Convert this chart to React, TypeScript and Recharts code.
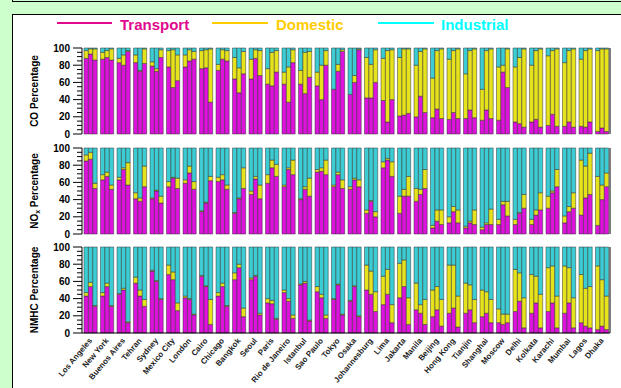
import React from "react";
import { BarChart, Bar, XAxis, YAxis } from "recharts";

const cities = [
  "Los Angeles", "New York", "Buenos Aires", "Tehran", "Sydney", "Mexico City",
  "London", "Cairo", "Chicago", "Bangkok", "Seoul", "Paris", "Rio de Janeiro",
  "Istanbul", "Sao Paulo", "Tokyo", "Osaka", "Johannesburg", "Lima", "Jakarta",
  "Manila", "Beijing", "Hong Kong", "Tianjin", "Shanghai", "Moscow", "Delhi",
  "Kolkata", "Karachi", "Mumbai", "Lagos", "Dhaka",
];

const yTicks = [0, 5, 10, 15, 20, 25, 30, 35, 40, 45, 50, 55, 60, 65, 70, 75, 80, 85, 90, 95, 100];
const yLabels = [0, 20, 40, 60, 80, 100];

// three bars per city, values in percent
const coTransport = [
  [88, 93, 86], [87, 89, 86], [83, 80, 96], [83, 73, 82], [79, 73, 89], [78, 54, 62],
  [78, 85, 87], [76, 77, 37], [74, 87, 85], [64, 48, 70], [64, 88, 68], [58, 56, 72],
  [58, 37, 83], [58, 47, 66], [56, 40, 80], [52, 73, 96], [46, 60, 98], [42, 42, 60],
  [39, 14, 40], [21, 22, 24], [20, 44, 25], [19, 29, 18], [17, 25, 18], [18, 28, 19],
  [16, 28, 18], [16, 72, 54], [14, 12, 8], [14, 17, 8], [10, 23, 9], [9, 14, 8],
  [9, 8, 14], [3, 7, 3],
];
const coDomestic = [
  [9, 6, 13], [8, 8, 13], [5, 12, 1], [9, 1, 17], [5, 3, 9], [19, 44, 30],
  [14, 13, 9], [21, 21, 62], [7, 11, 12], [25, 29, 26], [23, 10, 29], [18, 39, 25],
  [14, 41, 15], [16, 48, 30], [16, 40, 17], [0, 8, 2], [0, 8, 1], [47, 39, 38],
  [49, 83, 58], [68, 77, 75], [60, 52, 74], [46, 68, 81], [70, 72, 81], [52, 69, 80],
  [36, 69, 81], [62, 8, 45], [64, 77, 91], [66, 80, 91], [81, 74, 90], [74, 83, 91],
  [78, 89, 85], [94, 92, 96],
];
const coIndustrial = [
  [3, 1, 1], [5, 3, 1], [12, 8, 3], [8, 26, 1], [16, 24, 2], [3, 2, 8],
  [8, 2, 4], [3, 2, 1], [19, 2, 3], [11, 23, 4], [13, 2, 3], [24, 5, 3],
  [28, 22, 2], [26, 5, 4], [28, 20, 3], [48, 19, 2], [54, 32, 1], [11, 19, 2],
  [12, 3, 2], [11, 1, 1], [20, 4, 1], [35, 3, 1], [13, 3, 1], [30, 3, 1],
  [48, 3, 1], [22, 20, 1], [22, 11, 1], [20, 3, 1], [9, 3, 1], [17, 3, 1],
  [13, 3, 1], [3, 1, 1],
];

const noxTransport = [
  [85, 87, 53], [63, 67, 52], [63, 75, 57], [41, 38, 55], [41, 50, 36], [55, 65, 53],
  [59, 71, 52], [26, 36, 62], [61, 63, 52], [24, 41, 53], [46, 64, 41], [59, 77, 67],
  [55, 75, 69], [40, 52, 44], [72, 73, 69], [55, 69, 53], [52, 63, 55], [24, 38, 20],
  [77, 86, 67], [24, 44, 44], [38, 46, 53], [7, 15, 11], [13, 26, 13], [7, 13, 11],
  [5, 11, 11], [11, 34, 21], [11, 24, 30], [11, 22, 28], [30, 48, 55], [13, 26, 30],
  [22, 42, 46], [10, 40, 55],
];
const noxDomestic = [
  [7, 8, 6], [6, 5, 5], [3, 2, 26], [7, 4, 24], [1, 1, 8], [6, 1, 12],
  [4, 8, 9], [1, 1, 5], [5, 6, 5], [1, 1, 24], [4, 3, 16], [10, 9, 14],
  [2, 2, 17], [1, 3, 21], [3, 4, 17], [2, 3, 10], [3, 2, 8], [4, 1, 6],
  [7, 2, 17], [20, 8, 23], [15, 6, 22], [3, 13, 17], [7, 6, 15], [2, 2, 17],
  [3, 2, 18], [6, 4, 17], [6, 1, 16], [6, 6, 20], [14, 2, 20], [8, 6, 18],
  [64, 37, 48], [57, 17, 16],
];
const noxIndustrial = [
  [8, 5, 41], [31, 28, 43], [34, 23, 17], [52, 58, 21], [58, 49, 56], [39, 34, 35],
  [37, 21, 39], [73, 63, 33], [34, 31, 43], [75, 58, 23], [50, 33, 43], [31, 14, 19],
  [43, 23, 14], [59, 45, 35], [25, 23, 14], [43, 28, 37], [45, 35, 37], [72, 61, 74],
  [16, 12, 16], [56, 48, 33], [47, 48, 25], [90, 72, 72], [80, 68, 72], [91, 85, 72],
  [92, 87, 71], [83, 62, 62], [83, 75, 54], [83, 72, 52], [56, 50, 25], [79, 68, 52],
  [14, 21, 6], [33, 43, 29],
];

const nmhcTransport = [
  [43, 54, 31], [43, 54, 31], [45, 50, 12], [58, 43, 31], [72, 60, 39], [68, 62, 26],
  [41, 39, 21], [66, 54, 10], [43, 54, 31], [62, 76, 19], [62, 66, 21], [35, 34, 16],
  [47, 37, 17], [56, 58, 14], [48, 41, 17], [39, 56, 21], [37, 54, 19], [50, 45, 25],
  [33, 45, 12], [41, 54, 10], [27, 23, 10], [19, 27, 8], [23, 29, 7], [23, 27, 12],
  [19, 23, 12], [12, 10, 12], [25, 37, 6], [23, 35, 6], [25, 35, 6], [23, 35, 6],
  [12, 8, 6], [4, 8, 4],
];
const nmhcDomestic = [
  [4, 5, 1], [4, 4, 1], [1, 2, 1], [7, 7, 8], [1, 1, 1], [11, 9, 9],
  [2, 1, 1], [1, 1, 29], [4, 4, 1], [8, 4, 10], [2, 1, 2], [5, 4, 1],
  [3, 3, 4], [1, 2, 1], [6, 4, 4], [1, 1, 1], [1, 1, 1], [29, 27, 23],
  [33, 29, 21], [40, 31, 31], [31, 10, 29], [31, 27, 31], [56, 50, 36], [35, 29, 27],
  [31, 25, 27], [16, 12, 10], [49, 33, 35], [45, 31, 39], [51, 43, 37], [55, 41, 35],
  [56, 44, 48], [74, 54, 39],
];
const nmhcIndustrial = [
  [53, 41, 68], [53, 42, 68], [54, 48, 87], [35, 50, 61], [27, 39, 60], [21, 29, 65],
  [57, 60, 78], [33, 45, 61], [53, 42, 68], [30, 20, 71], [36, 33, 77], [60, 62, 83],
  [50, 60, 79], [43, 40, 85], [46, 55, 79], [60, 43, 78], [62, 45, 80], [21, 28, 52],
  [34, 26, 67], [19, 15, 59], [42, 67, 61], [50, 46, 61], [21, 21, 57], [42, 44, 61],
  [50, 52, 61], [72, 78, 78], [26, 30, 59], [32, 34, 55], [24, 22, 57], [22, 24, 59],
  [32, 48, 46], [22, 38, 57],
];

const MAGENTA = "#dd12dd";
const YELLOW = "#e6e21c";
const CYAN = "#3ccdd4";

function buildRows(tr: number[][], dom: number[][], ind: number[][]) {
  return cities.map((city, i) => {
    const row: any = { city };
    [0, 1, 2].forEach((m) => {
      row[`t${m}`] = tr[i][m];
      row[`d${m}`] = dom[i][m];
      row[`i${m}`] = ind[i][m];
    });
    return row;
  });
}

const coRows = buildRows(coTransport, coDomestic, coIndustrial);
const noxRows = buildRows(noxTransport, noxDomestic, noxIndustrial);
const nmhcRows = buildRows(nmhcTransport, nmhcDomestic, nmhcIndustrial);

function LeftTick({ x, y, payload }: any) {
  const major = yLabels.includes(payload.value);
  return (
    <g>
      <line x1={x - (major ? 9 : 5)} x2={x} y1={y} y2={y} stroke="#000" strokeWidth={1} />
      {major && (
        <text x={x - 12} y={y} dy={3.5} textAnchor="end" fontSize={10} fontWeight="bold" fill="#000">
          {payload.value}
        </text>
      )}
    </g>
  );
}

function RightTick({ x, y, payload }: any) {
  const major = yLabels.includes(payload.value);
  return <line x1={x} x2={x + (major ? 7 : 4)} y1={y} y2={y} stroke="#000" strokeWidth={1} />;
}

function CityTick({ x, y, payload }: any) {
  const ty = y + 6;
  return (
    <text
      x={x}
      y={ty}
      dy={3}
      textAnchor="end"
      fontSize={8}
      fontWeight="bold"
      fill="#222"
      transform={`rotate(-50 ${x} ${ty})`}
    >
      {payload.value}
    </text>
  );
}

function Panel({ rows, labels }: { rows: any[]; labels?: boolean }) {
  const height = labels ? 151 : 100;
  return (
    <BarChart
      width={621}
      height={height}
      data={rows}
      margin={{ top: 5, right: 1, left: 22, bottom: labels ? 0 : 9 }}
      barGap={0}
      barSize={4.4}
    >
      <XAxis
        dataKey="city"
        interval={0}
        height={labels ? 60 : 0}
        tickSize={0}
        tickMargin={0}
        tickLine={false}
        axisLine={{ stroke: "#000", strokeWidth: 1.2 }}
        tick={labels ? (p: any) => <CityTick {...p} /> : false}
      />
      <XAxis
        xAxisId="top"
        dataKey="city"
        orientation="top"
        height={0}
        tick={false}
        tickLine={false}
        axisLine={{ stroke: "#000", strokeWidth: 1.2 }}
      />
      <YAxis
        yAxisId="left"
        domain={[0, 100]}
        ticks={yTicks}
        interval={0}
        width={60}
        tickSize={0}
        tickMargin={0}
        tickLine={false}
        axisLine={{ stroke: "#000" }}
        tick={(p: any) => <LeftTick {...p} />}
      />
      <YAxis
        yAxisId="right"
        orientation="right"
        domain={[0, 100]}
        ticks={yTicks}
        interval={0}
        width={10}
        tickSize={0}
        tickMargin={0}
        tickLine={false}
        axisLine={{ stroke: "#000" }}
        tick={(p: any) => <RightTick {...p} />}
      />
      {[0, 1, 2].map((m) => [
        <Bar key={`t${m}`} yAxisId="left" dataKey={`t${m}`} stackId={`s${m}`} fill={MAGENTA} stroke="#333" strokeWidth={0.5} isAnimationActive={false} />,
        <Bar key={`d${m}`} yAxisId="left" dataKey={`d${m}`} stackId={`s${m}`} fill={YELLOW} stroke="#333" strokeWidth={0.5} isAnimationActive={false} />,
        <Bar key={`i${m}`} yAxisId="left" dataKey={`i${m}`} stackId={`s${m}`} fill={CYAN} stroke="#333" strokeWidth={0.5} isAnimationActive={false} />,
      ])}
    </BarChart>
  );
}

const legendItems = [
  { name: "Transport", color: "#e0088c", x1: 57, x2: 112, tx: 120 },
  { name: "Domestic", color: "#ffcc00", x1: 212, x2: 268, tx: 276 },
  { name: "Industrial", color: "#00ffff", x1: 378, x2: 434, tx: 441 },
];

export default function App() {
  return (
    <div
      style={{
        position: "fixed",
        left: 0,
        top: 0,
        width: 621,
        height: 388,
        overflow: "hidden",
        background: "#ccffcc",
        fontFamily: "'Liberation Sans', Arial, sans-serif",
      }}
    >
      <div
        style={{
          position: "absolute", left: 12, top: -20, width: 700, height: 22,
          boxSizing: "border-box", border: "1.5px solid #000", background: "#ccffcc",
        }}
      />
      <div
        style={{
          position: "absolute", left: 12, top: 14, width: 700, height: 500,
          boxSizing: "border-box", border: "1.5px solid #000", background: "#fff",
        }}
      />
      <div style={{ position: "absolute", left: 0, top: 43 }}>
        <Panel rows={coRows} />
      </div>
      <div style={{ position: "absolute", left: 0, top: 143 }}>
        <Panel rows={noxRows} />
      </div>
      <div style={{ position: "absolute", left: 0, top: 242 }}>
        <Panel rows={nmhcRows} labels />
      </div>
      <svg width={621} height={388} style={{ position: "absolute", left: 0, top: 0, pointerEvents: "none" }}>
        {legendItems.map((it) => (
          <g key={it.name}>
            <line x1={it.x1} x2={it.x2} y1={23} y2={23} stroke={it.color} strokeWidth={2.2} />
            <text x={it.tx} y={29.5} fontSize={15} fontWeight="bold" fill={it.color}>
              {it.name}
            </text>
          </g>
        ))}
        <text transform="rotate(-90 38 91)" x={38} y={91} textAnchor="middle" fontSize={10} fontWeight="bold" fill="#000">
          CO Percentage
        </text>
        <text transform="rotate(-90 38 191)" x={38} y={191} textAnchor="middle" fontSize={10} fontWeight="bold" fill="#000">
          NO<tspan fontSize={7} dy={2}>x</tspan>
          <tspan dy={-2}> Percentage</tspan>
        </text>
        <text transform="rotate(-90 38 290)" x={38} y={290} textAnchor="middle" fontSize={10} fontWeight="bold" fill="#000">
          NMHC Percentage
        </text>
      </svg>
    </div>
  );
}
